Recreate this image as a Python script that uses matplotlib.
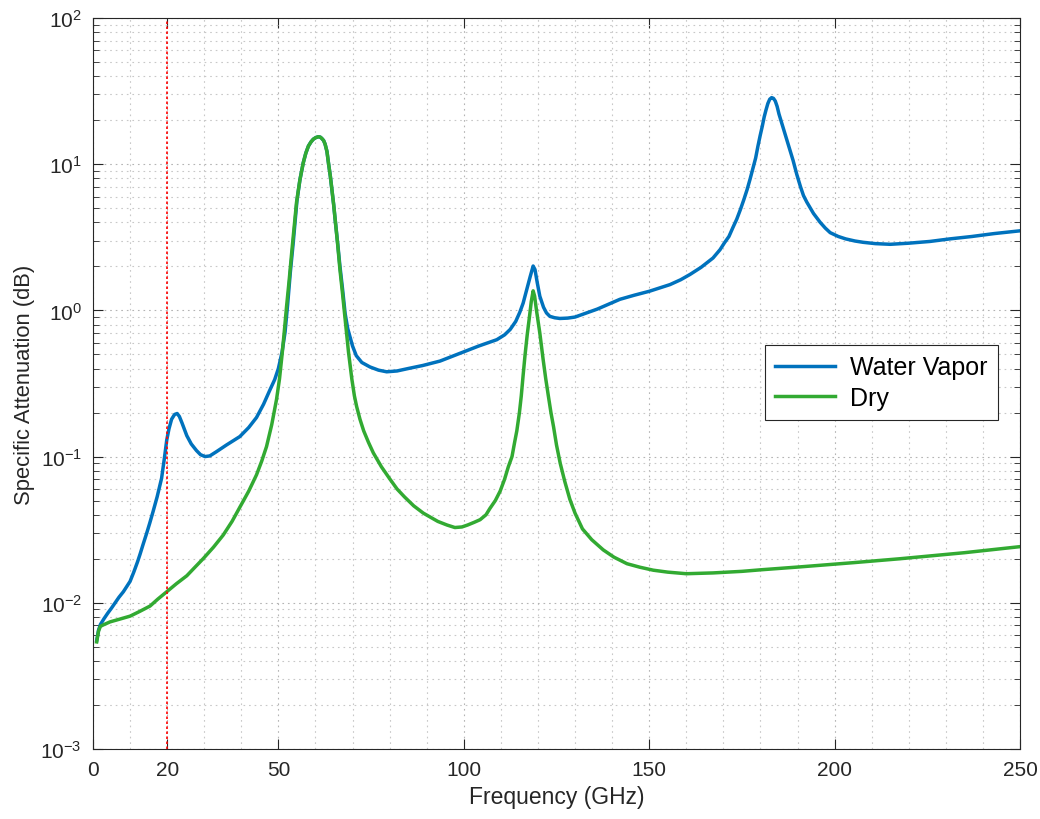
import matplotlib
matplotlib.use("Agg")
import matplotlib.pyplot as plt
from matplotlib.ticker import MultipleLocator, LogLocator, NullFormatter

plt.rcParams["font.family"] = ["Liberation Sans", "DejaVu Sans"]

# Water vapor specific attenuation (dB) vs frequency (GHz)
freq_wv = [1, 1.5, 2, 3, 4, 5, 6, 7, 8.2, 9, 10, 11, 12, 12.7, 13.5, 14.5, 15.3, 16.2,
           17.3, 18.5, 19.2, 19.9, 20.5, 21.2, 22, 22.7, 23.3, 24, 25.3, 26.5, 27.9,
           29, 30.2, 31.5, 33.3, 36, 39.6, 42, 44.1, 46, 47.7, 49, 50, 51, 51.8, 52.5,
           53.2, 54, 54.5, 55, 55.8, 56.7, 57.4, 58.1, 58.8, 59.4, 60.1, 60.8, 61.3,
           61.7, 62.2, 62.6, 63.1, 63.5, 64, 64.4, 64.9, 65.3, 66, 66.6, 67.3, 68, 68.7,
           69.3, 70, 71, 72.5, 74.7, 77, 79.2, 82, 85, 89, 93.6, 100, 104, 108.9, 111,
           112.5, 114, 115.1, 116, 117, 117.9, 118.7, 119.2, 119.8, 120.5, 121.5, 122.3,
           123.2, 124.5, 125.9, 128, 130, 136, 142.1, 146, 150, 155.6, 158.5, 161, 164,
           167.2, 169.1, 170.3, 171.5, 172.6, 173.6, 174.6, 175.5, 176.4, 177.2, 178,
           178.7, 179.3, 179.9, 180.5, 181, 181.5, 182, 182.5, 183, 183.5, 184, 184.5,
           185, 185.9, 186.8, 187.8, 188.8, 189.8, 190.8, 191.6, 192.5, 194.3, 196.1,
           197.5, 198.8, 201, 203, 205.5, 207.7, 211, 215, 220, 225.7, 231, 237, 243, 250]
att_wv = [0.0055, 0.0065, 0.0071, 0.0078, 0.0085, 0.0092, 0.0100, 0.0109, 0.0119, 0.0128,
          0.0140, 0.0162, 0.0190, 0.0215, 0.0250, 0.030, 0.035, 0.042, 0.053, 0.071,
          0.095, 0.13, 0.155, 0.18, 0.194, 0.197, 0.188, 0.17, 0.139, 0.122, 0.11,
          0.103, 0.100, 0.101, 0.108, 0.12, 0.137, 0.158, 0.185, 0.228, 0.285, 0.336,
          0.40, 0.52, 0.71, 1.1, 1.8, 2.9, 4.0, 5.6, 7.8, 10.2, 11.9, 13.3, 14.2, 14.8,
          15.2, 15.4, 15.3, 15.0, 14.5, 13.7, 12.2, 10.2, 8.3, 6.8, 5.3, 4.2, 2.85, 2.0,
          1.4, 0.95, 0.75, 0.66, 0.57, 0.49, 0.44, 0.41, 0.39, 0.38, 0.385, 0.40, 0.42,
          0.45, 0.52, 0.57, 0.63, 0.68, 0.74, 0.84, 0.97, 1.12, 1.4, 1.7, 2.01, 1.9,
          1.55, 1.25, 1.05, 0.96, 0.91, 0.89, 0.88, 0.885, 0.90, 1.02, 1.19, 1.27, 1.35,
          1.5, 1.62, 1.76, 1.97, 2.28, 2.6, 2.9, 3.2, 3.7, 4.2, 4.9, 5.7, 6.7, 7.9, 9.4,
          11.0, 13.2, 15.6, 18.2, 21.0, 23.5, 26.0, 27.8, 28.5, 28.2, 27.0, 24.8, 22.0,
          18.5, 15.6, 12.8, 10.6, 8.5, 7.0, 6.1, 5.5, 4.6, 4.0, 3.65, 3.4, 3.2, 3.08,
          2.98, 2.92, 2.86, 2.83, 2.88, 2.96, 3.08, 3.2, 3.35, 3.5]

# Dry air specific attenuation (dB) vs frequency (GHz)
freq_dry = [1, 1.5, 2, 3, 4.6, 7, 10, 12.5, 15.4, 17.5, 19.9, 22.5, 25.3, 27.5, 29.7,
            32.5, 35.1, 37.5, 39.6, 42, 44.1, 45.5, 46.8, 48.2, 49.5, 50.3, 51, 51.6,
            52.2, 52.9, 53.6, 54.2, 54.9, 55.8, 56.7, 57.4, 58.1, 58.8, 59.4, 60.1,
            60.8, 61.3, 61.7, 62.2, 62.6, 63.1, 63.5, 64, 64.4, 64.9, 65.3, 66, 66.6,
            67.3, 68, 68.9, 69.8, 70.5, 71.1, 72, 73, 74.3, 75.6, 77.8, 80.1, 82, 84,
            86.5, 89.1, 93, 95.5, 97.6, 99.5, 101, 102.8, 104.4, 106, 107, 108.5, 109.8,
            111, 112, 113, 113.7, 114.3, 115, 115.5, 116, 116.5, 117.1, 117.7, 118.2,
            118.7, 119.1, 119.6, 120.5, 121.4, 122.1, 122.8, 123.5, 124.2, 125, 126,
            127.2, 128.6, 130, 132, 134.5, 137.6, 140.5, 144, 147.5, 151.1, 155, 160,
            167.2, 175, 180, 190.7, 205, 217.6, 235, 250]
att_dry = [0.0054, 0.0064, 0.0069, 0.0071, 0.0074, 0.0077, 0.0081, 0.0087, 0.0095,
           0.0106, 0.0119, 0.0135, 0.0153, 0.0175, 0.020, 0.024, 0.029, 0.036, 0.045,
           0.058, 0.075, 0.093, 0.117, 0.165, 0.246, 0.34, 0.5, 0.72, 1.06, 1.6, 2.5,
           3.6, 5.5, 7.8, 10.2, 11.9, 13.3, 14.2, 14.8, 15.2, 15.4, 15.3, 15.0, 14.5,
           13.7, 12.2, 10.2, 8.3, 6.8, 5.3, 4.2, 2.8, 1.9, 1.3, 0.87, 0.52, 0.34, 0.26,
           0.22, 0.18, 0.15, 0.125, 0.106, 0.085, 0.07, 0.06, 0.053, 0.046, 0.041, 0.036,
           0.034, 0.0327, 0.033, 0.034, 0.0355, 0.037, 0.040, 0.044, 0.050, 0.058, 0.07,
           0.085, 0.10, 0.125, 0.15, 0.2, 0.26, 0.36, 0.49, 0.68, 0.9, 1.15, 1.36, 1.25,
           1.0, 0.7, 0.46, 0.34, 0.26, 0.2, 0.16, 0.12, 0.09, 0.068, 0.051, 0.041, 0.032,
           0.027, 0.023, 0.0205, 0.0185, 0.0175, 0.0167, 0.0162, 0.0158, 0.016, 0.0164,
           0.0168, 0.0176, 0.0188, 0.020, 0.022, 0.0242]

xticks = [0, 20, 50, 100, 150, 200, 250]
marker_freq = 20

fig = plt.figure(figsize=(10.4, 8.2), dpi=100)
ax = fig.add_axes([0.0894, 0.0854, 0.8914, 0.8915])

ax.plot(freq_wv, att_wv, color="#0072BD", lw=2.5, label="Water Vapor")
ax.plot(freq_dry, att_dry, color="#32AA32", lw=2.5, label="Dry")
ax.axvline(marker_freq, color="red", lw=1.2, ls=(0, (1.5, 1.5)))

ax.set_yscale("log")
ax.set_xlim(0, 250)
ax.set_ylim(1e-3, 1e2)
ax.set_xticks(xticks)
ax.set_xticklabels([str(t) for t in xticks])
ax.xaxis.set_minor_locator(MultipleLocator(10))
ax.yaxis.set_major_locator(LogLocator(base=10, numticks=10))
ax.yaxis.set_minor_locator(LogLocator(base=10, subs=range(2, 10), numticks=20))
ax.yaxis.set_minor_formatter(NullFormatter())

ax.grid(True, which="major", color="#b4b4b4", ls=(0, (1.5, 3.5)), lw=0.8)
ax.grid(True, which="minor", color="#c8c8c8", ls=(0, (1.5, 3.5)), lw=0.8)

ax.tick_params(which="both", direction="in", top=True, right=True,
               colors="#262626", labelsize=15, pad=8)
ax.tick_params(which="major", length=7, width=0.8)
ax.tick_params(axis="y", which="minor", length=4, width=0.6)
ax.tick_params(axis="x", which="minor", length=0)
for sp in ax.spines.values():
    sp.set_color("#262626")
    sp.set_linewidth(0.8)

ax.set_xlabel("Frequency (GHz)", fontsize=16.5, color="#262626", labelpad=4)
ax.set_ylabel("Specific Attenuation (dB)", fontsize=15.8, color="#262626", labelpad=4)

leg = ax.legend(loc="upper right", bbox_to_anchor=(0.9763, 0.5527), borderaxespad=0,
                fontsize=18, fancybox=False, framealpha=1, edgecolor="#262626",
                handlelength=2.4, borderpad=0.42, labelspacing=0.25, handletextpad=0.6)
leg.get_frame().set_linewidth(0.8)

fig.savefig("out.png", dpi=100)
